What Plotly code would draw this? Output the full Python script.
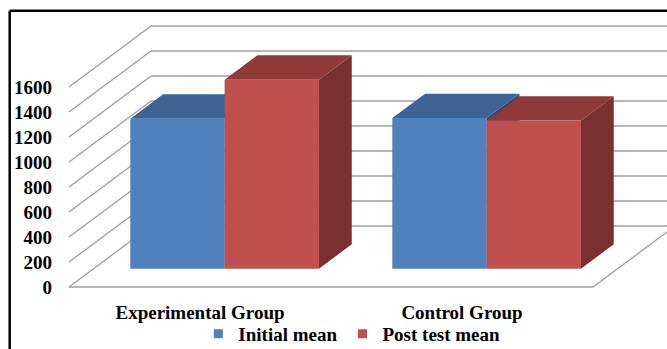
import plotly.graph_objects as go

# ---- data -------------------------------------------------------------
groups = ["Experimental Group", "Control Group"]
series_names = ["Initial mean", "Post test mean"]
initial_mean = [1200, 1205]
post_test_mean = [1512, 1185]
y_ticks = [0, 200, 400, 600, 800, 1000, 1200, 1400, 1600]

# ---- styling ----------------------------------------------------------
FRONT = ["#4F81BD", "#C0504D"]
TOP = ["#3D6494", "#8F3A38"]
SIDE = ["#2E4C72", "#7A302E"]
GRID = "#9E9E9E"
FONT = dict(family="Liberation Serif", size=19, color="#000000",
            weight="bold")

# oblique projection: how far the back wall is shifted (in axis units)
DEPTH_X = 0.313
DEPTH_Y = 488
BAR_F0, BAR_F1 = 0.30, 0.70      # bar depth as fraction of the floor depth
BAR_W = 0.36                     # width of one bar in category units

fig = go.Figure()


def poly(xs, ys, color):
    fig.add_trace(go.Scatter(
        x=list(xs) + [xs[0]], y=list(ys) + [ys[0]], mode="lines",
        fill="toself", fillcolor=color, line=dict(width=0, color=color),
        hoverinfo="skip", showlegend=False))


# ---- walls and floor --------------------------------------------------
left, right = -0.5, len(groups) - 0.5
gx, gy = [], []
for v in y_ticks:
    # left wall diagonal
    gx += [left, left + DEPTH_X, None]
    gy += [v, v + DEPTH_Y, None]
    # back wall horizontal
    gx += [left + DEPTH_X, right + DEPTH_X, None]
    gy += [v + DEPTH_Y, v + DEPTH_Y, None]
# floor front and right edges
gx += [left, right, right + DEPTH_X, None]
gy += [0, 0, DEPTH_Y, None]
fig.add_trace(go.Scatter(x=gx, y=gy, mode="lines",
                         line=dict(color=GRID, width=1.3),
                         hoverinfo="skip", showlegend=False))

# ---- 3-D bars ---------------------------------------------------------
dX = (BAR_F1 - BAR_F0) * DEPTH_X
dY = (BAR_F1 - BAR_F0) * DEPTH_Y
base = BAR_F0 * DEPTH_Y
series = [initial_mean, post_test_mean]
for i in range(len(groups)):
    for s, values in enumerate(series):
        v = values[i]
        x0 = i - BAR_W + s * BAR_W + BAR_F0 * DEPTH_X
        x1 = x0 + BAR_W
        t = base + v
        # right side face
        poly([x1, x1, x1 + dX, x1 + dX], [base, t, t + dY, base + dY], SIDE[s])
        # top face
        poly([x0, x1, x1 + dX, x0 + dX], [t, t, t + dY, t + dY], TOP[s])
        # front face
        poly([x0, x1, x1, x0], [base, base, t, t], FRONT[s])

# legend entries
for s, name in enumerate(series_names):
    fig.add_trace(go.Scatter(x=[None], y=[None], mode="markers", name=name,
                             marker=dict(symbol="square", size=9,
                                         color=FRONT[s])))

W, H = 667, 349
fig.update_layout(
    width=W, height=H,
    margin=dict(l=0, r=0, t=0, b=0, autoexpand=False),
    paper_bgcolor="white", plot_bgcolor="white",
    font=FONT,
    showlegend=True,
    legend=dict(orientation="h", x=0.5275, xanchor="center",
                y=(H - 334) / H, yanchor="middle", font=FONT,
                bgcolor="rgba(0,0,0,0)", itemwidth=30, tracegroupgap=0),
    xaxis=dict(range=[-0.7634, 1.7824], showgrid=False, zeroline=False,
               showline=False, tickmode="array",
               tickvals=list(range(len(groups))), ticktext=groups,
               anchor="free", position=(H - 287) / H, automargin=False,
               ticks="", ticklabelstandoff=12, tickfont=FONT,
               fixedrange=True),
    yaxis=dict(range=[-496, 2296], showgrid=False, zeroline=False,
               showline=False, tickmode="array", tickvals=y_ticks,
               anchor="free", position=69 / W, automargin=False,
               ticks="", ticklabelstandoff=17, tickfont=FONT,
               fixedrange=True),
    shapes=[
        dict(type="line", xref="paper", yref="paper",
             x0=9.7 / W, x1=1.0, y0=1 - 10.7 / H, y1=1 - 10.7 / H,
             line=dict(color="black", width=2.5)),
        dict(type="line", xref="paper", yref="paper",
             x0=9.7 / W, x1=9.7 / W, y0=1 - 10.7 / H, y1=0,
             line=dict(color="black", width=2.5)),
    ],
)

fig.write_html("out.html")
